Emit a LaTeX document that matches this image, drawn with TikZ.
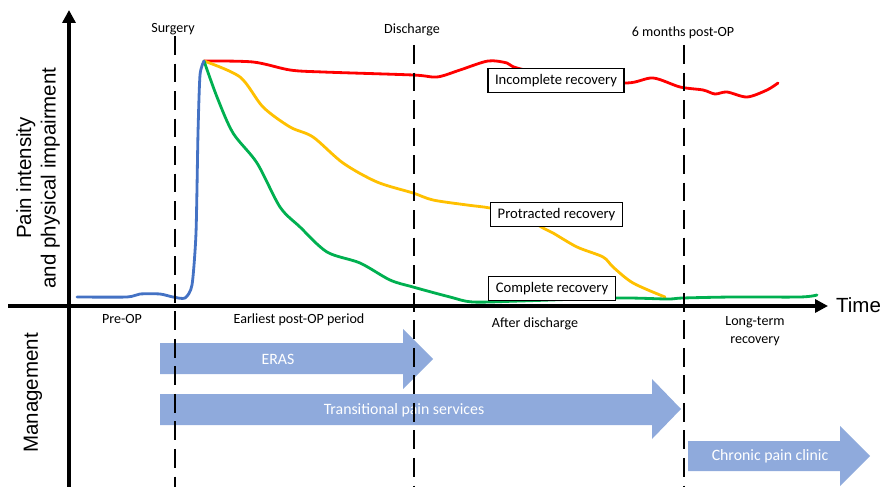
\documentclass[tikz,border=0pt]{standalone}
\usepackage{fontspec}
\setmainfont{Carlito}
\newfontfamily\axisfont{Liberation Sans}
\usetikzlibrary{arrows.meta, positioning}
\definecolor{painred}{HTML}{FF0000}
\definecolor{painorange}{HTML}{FFC000}
\definecolor{paingreen}{HTML}{00B050}
\definecolor{painblue}{HTML}{4472C4}
\definecolor{careblue}{HTML}{8FAADC}
\tikzstyle{axis}=[line width=3.3pt, -{Triangle[length=11pt,width=11pt]}]
\tikzstyle{phase}=[line width=2.4pt, dash pattern=on 16pt off 7.5pt]
\tikzstyle{course}=[line width=2.4pt, line join=round, line cap=round]
\tikzstyle{outcome}=[draw, line width=1pt, fill=white, font=\fontsize{12.5}{15}\selectfont, minimum height=21pt, inner xsep=6pt]
\tikzstyle{period}=[font=\fontsize{12}{15}\selectfont, align=center]
\tikzstyle{care}=[fill=careblue]
\tikzstyle{caretext}=[text=white, font=\fontsize{13.5}{15}\selectfont]
\tikzstyle{axislabel}=[font=\axisfont\fontsize{17.5}{21}\selectfont, align=center]

\begin{document}
\begin{tikzpicture}[x=0.03cm, y=-0.03cm]
    \useasboundingbox (0,0) rectangle (881,487);

    % management blocks
    \fill[care] (160,343) -- (403,343) -- (403,329) -- (433,359) -- (403,389) -- (403,374) -- (160,374) -- cycle;
    \fill[care] (160,394) -- (652,394) -- (652,379) -- (681,409) -- (652,439) -- (652,425) -- (160,425) -- cycle;
    \fill[care] (688,441) -- (840,441) -- (840,426) -- (870,456) -- (840,486) -- (840,471) -- (688,471) -- cycle;
    \node[caretext] (eras)  at (278,359) {ERAS};
    \node[caretext] (tps)   at (404,410) {Transitional pain services};
    \node[caretext] (chron) at (770,456) {Chronic pain clinic};

    % courses
    \draw[course, painred] plot[smooth, tension=0.5] coordinates {(204,61) (253,62) (290,70) (323,72) (413,75) (437,77) (460,70) (488,61) (507,63) (517,68) (570,80) (627,83) (653,78) (680,87) (703,90) (715,94) (727,92) (747,97) (767,90) (778,83)};
    \draw[course, painorange] plot[smooth, tension=0.5] coordinates {(204,61) (240,77) (263,107) (290,127) (313,137) (343,163) (377,182) (413,193) (433,200) (467,205) (490,208) (520,215) (543,228) (553,233) (577,247) (603,257) (613,267) (633,283) (665,297)};
    \draw[course, paingreen] plot[smooth, tension=0.5] coordinates {(204,61) (217,97) (233,133) (257,163) (280,207) (300,227) (327,252) (360,263) (390,280) (413,287) (450,297) (473,302) (520,301) (617,298) (667,299) (683,298) (733,297) (800,297) (817,295)};
    \draw[course, painblue] plot[smooth, tension=0.4] coordinates {(77,297) (127,297) (140,294) (160,294) (173,297) (185,298) (192,285) (196,233) (198,133) (200,75) (204,61)};

    % time points
    \node[period] (surgery)   at (173,29) {Surgery};
    \node[period] (discharge) at (412,30) {Discharge};
    \node[period] (sixmonths) at (683,33) {6 months post-OP};
    \coordinate (surgtop) at (175,36);
    \coordinate (surgbot) at (175,487);
    \coordinate (disctop) at (414,45);
    \coordinate (discbot) at (414,487);
    \coordinate (sixtop)  at (684,45);
    \coordinate (sixbot)  at (684,487);
    \draw[phase] (surgtop) -- (surgbot);
    \draw[phase] (disctop) -- (discbot);
    \draw[phase] (sixtop) -- (sixbot);

    % outcomes
    \node[outcome] (incomplete) at (556,80.5)  {Incomplete recovery};
    \node[outcome] (protracted) at (556.5,214.5) {Protracted recovery};
    \node[outcome] (complete)   at (552,288.5) {Complete recovery};

    % axes
    \coordinate (ybot)   at (69,487);
    \coordinate (ytop)   at (69,10);
    \coordinate (xleft)  at (8,306);
    \coordinate (xright) at (828,306);
    \draw[axis] (ybot) -- (ytop);
    \draw[axis] (xleft) -- (xright);
    \node[axislabel, anchor=west] (time) at (832,305) {Time};
    \node[axislabel, rotate=90] (pain) at (38,178) {Pain intensity\\and physical impairment};
    \node[axislabel, rotate=90] (mgmt) at (33,393) {Management};

    % periods
    \node[period] (preop)    at (122,319) {Pre-OP};
    \node[period] (earliest) at (299,320) {Earliest post-OP period};
    \node[period] (after)    at (535,324) {After discharge};
    \node[period] (longterm) at (755,331) {Long-term\\recovery};
\end{tikzpicture}
\end{document}
